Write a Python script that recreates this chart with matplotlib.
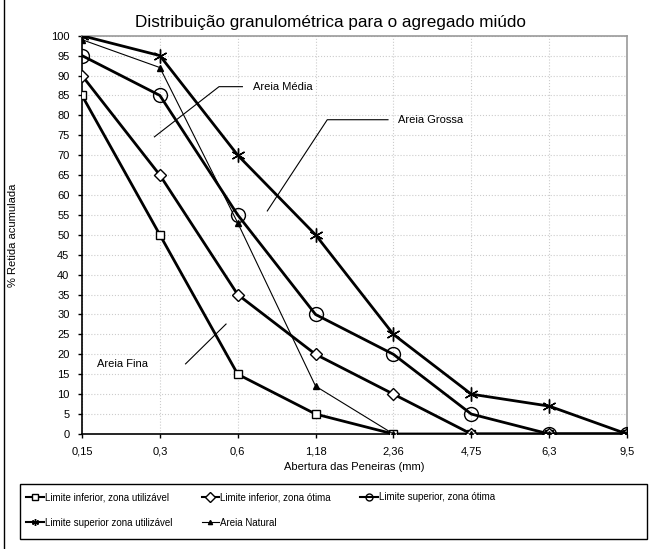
import matplotlib
matplotlib.use('Agg')
import matplotlib.pyplot as plt
from matplotlib.lines import Line2D
from matplotlib.patches import Rectangle

# peneiras (mm)
peneiras = ['0,15', '0,3', '0,6', '1,18', '2,36', '4,75', '6,3', '9,5']
lim_inf_util = [85, 50, 15, 5, 0, 0, 0, 0]
lim_inf_otima = [90, 65, 35, 20, 10, 0, 0, 0]
lim_sup_otima = [95, 85, 55, 30, 20, 5, 0, 0]
lim_sup_util = [100, 95, 70, 50, 25, 10, 7, 0]
areia_natural = [99, 92, 53, 12, 0, 0, 0, 0]
yticks = list(range(0, 101, 5))

plt.rcParams['font.family'] = ['Liberation Sans', 'DejaVu Sans']

fig = plt.figure(figsize=(6.57, 5.49), dpi=100)
ax = fig.add_axes([0.1248, 0.2095, 0.8296, 0.7255])

x = list(range(len(peneiras)))
l1, = ax.plot(x, lim_inf_util, color='black', lw=2, marker='s', ms=6, mfc='white', mec='black', mew=1,
              label='Limite inferior, zona utilizável', zorder=3)
l2, = ax.plot(x, lim_inf_otima, color='black', lw=2, marker='D', ms=6, mfc='white', mec='black', mew=1,
              label='Limite inferior, zona ótima', zorder=3)
l3, = ax.plot(x, lim_sup_otima, color='black', lw=2, marker='o', ms=10, mfc='none', mec='black', mew=1,
              label='Limite superior, zona ótima', zorder=3)
l4, = ax.plot(x, lim_sup_util, color='black', lw=2, marker=(6, 2, 0), ms=10, mec='black', mew=1,
              label='Limite superior zona utilizável', zorder=3)
l5, = ax.plot(x, areia_natural, color='black', lw=0.8, marker='^', ms=4, mfc='black', mec='black',
              label='Areia Natural', zorder=4)

ax.set_xlim(0, 7)
ax.set_ylim(0, 100)
ax.set_xticks(x)
ax.set_xticklabels(peneiras, fontsize=8)
ax.set_yticks(yticks)
ax.set_yticklabels([str(v) for v in yticks], fontsize=8)
ax.tick_params(direction='out', length=3, width=1, pad=6)
ax.grid(True, color='#cccccc', ls=':', lw=0.8)
ax.set_axisbelow(True)

for s in ['top', 'right']:
    ax.spines[s].set_color('#999999')
    ax.spines[s].set_linewidth(1.2)
for s in ['left', 'bottom']:
    ax.spines[s].set_color('black')
    ax.spines[s].set_linewidth(1.2)

fig.text(330 / 657, 1 - 22 / 549, 'Distribuição granulométrica para o agregado miúdo',
         fontsize=12.3, ha='center', va='center')
ax.set_xlabel('Abertura das Peneiras (mm)', fontsize=8, labelpad=4)
ax.set_ylabel('% Retida acumulada', fontsize=8, labelpad=24)

# anotações das zonas
ax.plot([0.93, 1.76, 2.06], [74.6, 87.2, 87.2], color='black', lw=0.8, zorder=2)
ax.text(2.2, 87.2, 'Areia Média', fontsize=8, va='center')
ax.plot([2.38, 3.15, 3.93], [56.0, 78.9, 78.9], color='black', lw=0.8, zorder=2)
ax.text(4.06, 78.9, 'Areia Grossa', fontsize=8, va='center')
ax.plot([1.33, 1.85], [17.6, 27.6], color='black', lw=0.8, zorder=2)
ax.text(0.19, 17.6, 'Areia Fina', fontsize=8, va='center')

# legenda (ordem por linhas)
handles = [l1, l4, l2, l5, l3]
leg = fig.legend(handles=handles, labels=[h.get_label() for h in handles],
                 loc='upper left', bbox_to_anchor=(26 / 657, 1 - 492 / 549),
                 ncol=3, fontsize=7, frameon=False,
                 handlelength=1.8, handletextpad=0.15, borderaxespad=0, borderpad=0,
                 labelspacing=1.6, columnspacing=3.0)
for h in leg.legend_handles:
    h.set_markersize(3 if h.get_marker() == '^' else 5)
    h.set_linewidth(min(h.get_linewidth(), 1.5))

fig.add_artist(Rectangle((20 / 657, 1 - 539 / 549), 627 / 657, 55 / 549, transform=fig.transFigure,
                         fill=False, edgecolor='black', lw=1))

# borda esquerda da figura
fig.add_artist(Line2D([4 / 657, 4 / 657], [0, 1], transform=fig.transFigure, color='black', lw=1))

fig.savefig('out.png', dpi=100)
